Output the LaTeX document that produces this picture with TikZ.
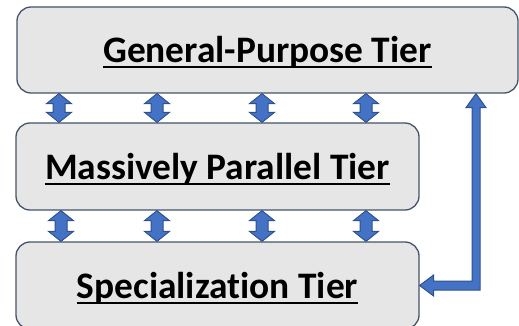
\documentclass[tikz,border=0pt]{standalone}
\usepackage{fontspec}
\setmainfont{Carlito}[Ligatures=NoCommon]
\usetikzlibrary{calc}
\definecolor{boxfill}{HTML}{E7E6E6}
\definecolor{boxline}{HTML}{44546A}
\definecolor{arrfill}{HTML}{4472C4}
\definecolor{arrline}{HTML}{2F528F}
\newcommand\ulbox[1]{\setbox0\hbox{#1}\rlap{\rule[-5.5pt]{\wd0}{2.2pt}}\box0}
\tikzset{
  tier/.style={draw=boxline, fill=boxfill, line width=1.3pt, rounded corners=14pt,
    inner sep=0pt, text height=26pt, text depth=0pt,
    font=\fontsize{37.4}{40}\selectfont\bfseries},
  blockarrow/.style={fill=arrfill, draw=arrline, line width=1pt, line join=miter}
}
\newcommand\vdbl[3]{%
  \draw[blockarrow] let \p1=(#2.south), \p2=(#3.north) in
  (#1pt,\y1) -- (#1pt+12.5pt,\y1-10pt) -- (#1pt+6pt,\y1-10pt) -- (#1pt+6pt,\y2+10pt)
  -- (#1pt+12.5pt,\y2+10pt) -- (#1pt,\y2) -- (#1pt-12.5pt,\y2+10pt) -- (#1pt-6pt,\y2+10pt)
  -- (#1pt-6pt,\y1-10pt) -- (#1pt-12.5pt,\y1-10pt) -- cycle;}
\begin{document}
\begin{tikzpicture}
\useasboundingbox (0,0) rectangle (519pt,-326pt);
\node[tier, minimum width=501pt, minimum height=86pt] (top) at (267.5pt,-50pt) {\ulbox{General-Purpose Tier}};
\node[tier, minimum width=403pt, minimum height=87pt] (mid) at (217.5pt,-166.5pt) {\ulbox{Massively Parallel Tier}};
\node[tier, minimum width=403pt, minimum height=87pt] (bot) at (217.5pt,-285.5pt) {\ulbox{Specialization Tier}};
\vdbl{59}{top}{mid}
\vdbl{157}{top}{mid}
\vdbl{262}{top}{mid}
\vdbl{366}{top}{mid}
\vdbl{61}{mid}{bot}
\vdbl{157}{mid}{bot}
\vdbl{262}{mid}{bot}
\vdbl{366}{mid}{bot}
\draw[blockarrow] let \p1=(top.south), \p2=(bot.east) in
  (476pt,\y1) -- (486pt,\y1-14pt) -- (480pt,\y1-14pt) -- (480pt,\y2-4.5pt)
  -- (\x2+14pt,\y2-4.5pt) -- (\x2+14pt,\y2-10.5pt) -- (\x2,\y2)
  -- (\x2+14pt,\y2+10.5pt) -- (\x2+14pt,\y2+4.5pt) -- (472pt,\y2+4.5pt)
  -- (472pt,\y1-14pt) -- (466pt,\y1-14pt) -- cycle;
\end{tikzpicture}
\end{document}
